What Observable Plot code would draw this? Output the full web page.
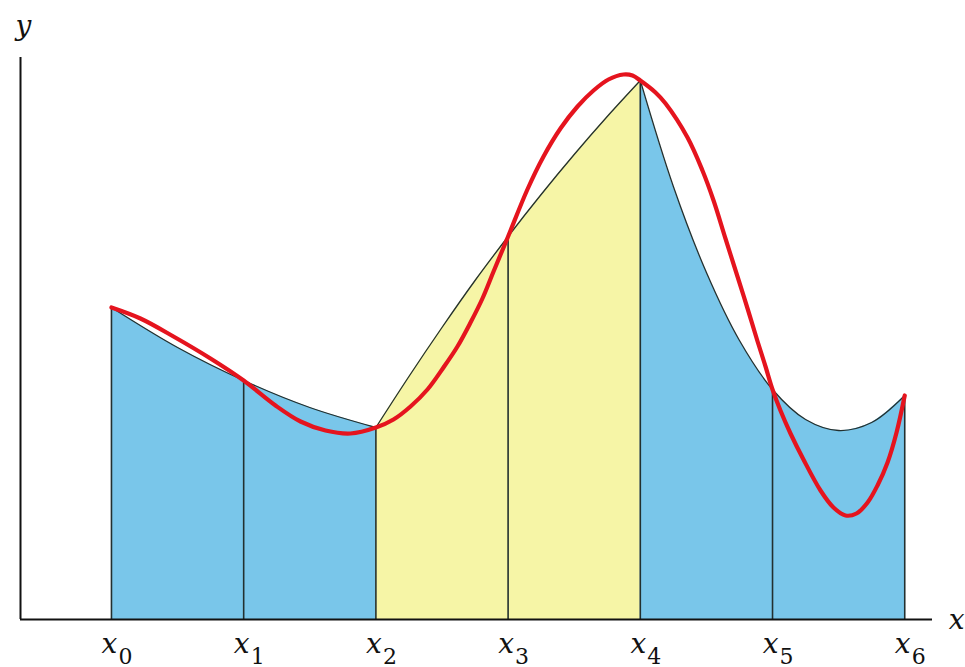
<!DOCTYPE html>
<html>
<head>
<meta charset="utf-8">
<script src="https://cdn.jsdelivr.net/npm/d3@7"></script>
<script src="https://cdn.jsdelivr.net/npm/@observablehq/plot@0.6"></script>
<style>
  html, body { margin: 0; padding: 0; background: #fff; overflow: hidden; }
  svg text { font-family: "DejaVu Serif", "Liberation Serif", serif; }
</style>
</head>
<body>
<div id="chart"></div>
<script>
// Node positions (index of x_i) and function values at the nodes
const nodeX = [0, 1, 2, 3, 4, 5, 6];
const nodeY = [3.12, 2.39, 1.92, 3.83, 5.39, 2.30, 2.24];

// Tick labels: x with subscript
const tickBase = "x";
const tickSubs = ["0", "1", "2", "3", "4", "5", "6"];

// Black approximating arcs for each pair of panels
const arcLeftX  = [0, 0.5, 1, 1.5, 2];
const arcLeftY  = [3.12, 2.72, 2.39, 2.12, 1.92];
const arcMidX   = [2, 2.25, 2.5, 2.75, 3, 3.25, 3.5, 3.75, 4];
const arcMidY   = [1.92, 2.43, 2.92, 3.39, 3.83, 4.25, 4.65, 5.03, 5.39];
const arcRightX = [4, 4.25, 4.5, 4.75, 5, 5.25, 5.5, 5.75, 6];
const arcRightY = [5.39, 4.33, 3.47, 2.79, 2.30, 2.00, 1.89, 1.97, 2.24];

// Red curve f(x)
const curveX = [0, 0.219, 0.469, 0.749, 1, 1.241, 1.43, 1.619, 1.808, 2,
  2.133, 2.262, 2.39, 2.511, 2.617, 2.716, 2.806, 2.89, 3,
  3.146, 3.268, 3.396, 3.525, 3.646, 3.759, 3.873, 3.941, 4,
  4.115, 4.191, 4.357, 4.47, 4.554, 4.644, 4.735, 4.811, 4.887, 4.947, 5,
  5.06, 5.136, 5.234, 5.363, 5.461, 5.552, 5.635, 5.719, 5.794, 5.87, 5.938, 6];
const curveY = [3.12, 3.01, 2.83, 2.61, 2.39, 2.14, 1.98, 1.89, 1.86, 1.92,
  2.00, 2.13, 2.30, 2.52, 2.73, 2.97, 3.21, 3.48, 3.83,
  4.30, 4.63, 4.91, 5.13, 5.29, 5.40, 5.45, 5.44, 5.39,
  5.27, 5.16, 4.82, 4.49, 4.19, 3.81, 3.43, 3.11, 2.78, 2.53, 2.30,
  2.09, 1.86, 1.60, 1.29, 1.12, 1.04, 1.06, 1.17, 1.34, 1.57, 1.87, 2.24];

const xDomain = [-0.688, 6.21];
const yDomain = [0, 5.62];

const blue = "#79c6ea";
const yellow = "#f6f5a6";
const red = "#e5141e";
const dark = "#23302f";

const zip = (xs, ys) => xs.map((x, i) => ({x, y: ys[i]}));
const arcLeft = zip(arcLeftX, arcLeftY);
const arcMid = zip(arcMidX, arcMidY);
const arcRight = zip(arcRightX, arcRightY);
const curve = zip(curveX, curveY);
const nodes = zip(nodeX, nodeY);
const ticks = nodeX.map((x, i) => ({x, base: tickBase, sub: tickSubs[i]}));

const font = "DejaVu Serif, Liberation Serif, serif";

const chart = Plot.plot({
  width: 965,
  height: 667,
  marginLeft: 20,
  marginRight: 33,
  marginTop: 57,
  marginBottom: 48,
  x: {domain: xDomain, axis: null},
  y: {domain: yDomain, axis: null},
  style: {background: "#fff", fontFamily: font, overflow: "visible"},
  marks: [
    Plot.areaY(arcLeft, {x: "x", y: "y", fill: blue, curve: "catmull-rom"}),
    Plot.areaY(arcMid, {x: "x", y: "y", fill: yellow, curve: "catmull-rom"}),
    Plot.areaY(arcRight, {x: "x", y: "y", fill: blue, curve: "catmull-rom"}),
    Plot.ruleX(nodes, {x: "x", y1: 0, y2: "y", stroke: dark, strokeWidth: 1.6}),
    Plot.line(arcLeft, {x: "x", y: "y", stroke: dark, strokeWidth: 1.3, curve: "catmull-rom"}),
    Plot.line(arcMid, {x: "x", y: "y", stroke: dark, strokeWidth: 1.3, curve: "catmull-rom"}),
    Plot.line(arcRight, {x: "x", y: "y", stroke: dark, strokeWidth: 1.3, curve: "catmull-rom"}),
    Plot.line(curve, {x: "x", y: "y", stroke: red, strokeWidth: 4.2, curve: "catmull-rom", strokeLinejoin: "round"}),
    Plot.ruleY([0], {stroke: "#111", strokeWidth: 2}),
    Plot.ruleX([xDomain[0]], {stroke: "#111", strokeWidth: 2}),
    Plot.text(ticks, {x: "x", y: 0, text: "base", dx: -2, dy: 33, lineAnchor: "bottom",
      fontSize: 28, fontStyle: "italic", fontFamily: font, fill: "#111"}),
    Plot.text(ticks, {x: "x", y: 0, text: "sub", dx: 14, dy: 44, lineAnchor: "bottom",
      fontSize: 22, fontFamily: font, fill: "#111"}),
    Plot.text(["x"], {frameAnchor: "bottom-right", text: d => d, dx: 32, dy: 9, lineAnchor: "bottom",
      fontSize: 28, fontStyle: "italic", fontFamily: font, fill: "#111"}),
    Plot.text(["y"], {frameAnchor: "top-left", text: d => d, dx: -5, dy: -23, lineAnchor: "bottom",
      fontSize: 28, fontStyle: "italic", fontFamily: font, fill: "#111"})
  ]
});
document.getElementById("chart").appendChild(chart);
</script>
</body>
</html>
